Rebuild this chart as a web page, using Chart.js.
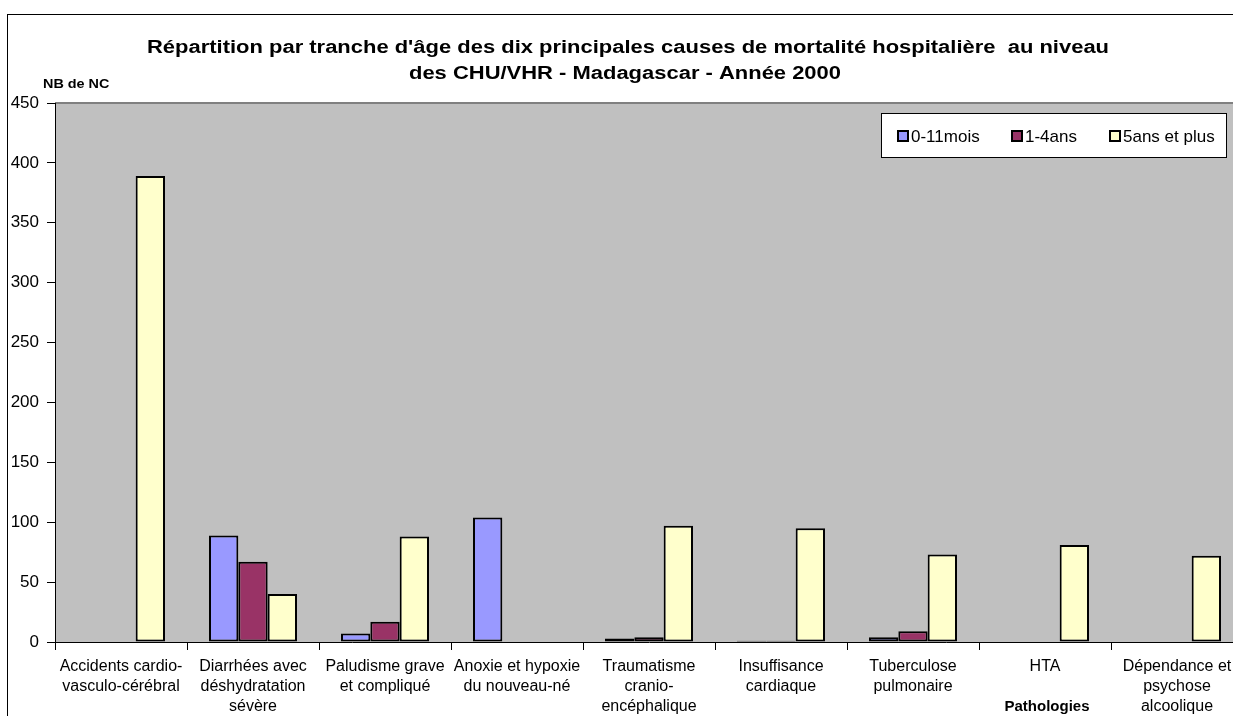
<!DOCTYPE html>
<html>
<head>
<meta charset="utf-8">
<script src="https://cdn.jsdelivr.net/npm/chart.js@4/dist/chart.umd.min.js"></script>
<style>
  html, body { margin: 0; padding: 0; background: #fff; overflow: hidden; }
  #wrap { width: 1250px; height: 716px; }
</style>
</head>
<body>
<div id="wrap"><canvas id="chart"></canvas></div>
<script>
const pathologies = [
    ['Accidents cardio-', 'vasculo-cérébral'],
    ['Diarrhées avec', 'déshydratation', 'sévère'],
    ['Paludisme grave', 'et compliqué'],
    ['Anoxie et hypoxie', 'du nouveau-né'],
    ['Traumatisme', 'cranio-', 'encéphalique'],
    ['Insuffisance', 'cardiaque'],
    ['Tuberculose', 'pulmonaire'],
    ['HTA'],
    ['Dépendance et', 'psychose', 'alcoolique']
];
const seriesNames = ['0-11mois', '1-4ans', '5ans et plus'];
const mois0a11 = [0, 89, 7, 104, 3, 1, 4, 0, 0];
const ans1a4 = [0, 67, 17, 0, 4, 1, 9, 0, 0];
const ans5plus = [389, 40, 88, 0, 97, 95, 73, 81, 72];
const yTicks = [0, 50, 100, 150, 200, 250, 300, 350, 400, 450];

const seriesColors = ['#9999FF', '#993366', '#FFFFCC'];
const titleLines = [
    "Répartition par tranche d'âge des dix principales causes de mortalité hospitalière  au niveau",
    "des CHU/VHR - Madagascar - Année 2000"
];
const FONT = '"Liberation Sans", Arial, sans-serif';

// texte un peu étiré en largeur, comme dans le graphique Excel
function wideText(ctx, txt, x, y, sx) {
    ctx.save();
    ctx.translate(x, y);
    ctx.scale(sx, 1);
    ctx.fillText(txt, 0, 0);
    ctx.restore();
}

// fond gris, cadre, titres et légende dans la zone de tracé
const excelLook = {
    id: 'excelLook',
    beforeDraw(chart) {
        const ctx = chart.ctx;
        const a = chart.chartArea;
        ctx.save();
        ctx.fillStyle = '#C0C0C0';
        ctx.fillRect(a.left, a.top, a.right - a.left, a.bottom - a.top);
        ctx.strokeStyle = '#808080';
        ctx.lineWidth = 2;
        ctx.beginPath();
        ctx.moveTo(a.left, a.top);
        ctx.lineTo(a.right, a.top);
        ctx.stroke();
        ctx.restore();
    },
    afterDraw(chart) {
        const ctx = chart.ctx;
        ctx.save();
        ctx.strokeStyle = '#000';
        ctx.lineWidth = 1;
        ctx.strokeRect(7.5, 14.5, 1400, 900);

        ctx.fillStyle = '#000';
        ctx.textAlign = 'center';
        ctx.textBaseline = 'middle';
        ctx.font = 'bold 18px ' + FONT;
        wideText(ctx, titleLines[0], 628, 48, 1.22);
        wideText(ctx, titleLines[1], 625, 74, 1.22);

        ctx.font = 'bold 12px ' + FONT;
        ctx.textAlign = 'left';
        wideText(ctx, 'NB de NC', 43, 85, 1.2);
        ctx.font = 'bold 15px ' + FONT;
        ctx.textAlign = 'center';
        ctx.fillText('Pathologies', 1047, 707);

        // légende
        ctx.fillStyle = '#fff';
        ctx.fillRect(881, 113, 346, 45);
        ctx.strokeStyle = '#000';
        ctx.strokeRect(881.5, 113.5, 345, 44);
        const xs = [898, 1012, 1110];
        ctx.font = '17px ' + FONT;
        ctx.textAlign = 'left';
        chart.data.datasets.forEach((ds, i) => {
            ctx.fillStyle = ds.backgroundColor;
            ctx.fillRect(xs[i], 131, 10, 10);
            ctx.strokeStyle = '#000';
            ctx.lineWidth = 2;
            ctx.strokeRect(xs[i], 131, 10, 10);
            ctx.fillStyle = '#000';
            ctx.fillText(ds.label, xs[i] + 13, 137);
        });
        ctx.restore();
    }
};

const series = [mois0a11, ans1a4, ans5plus];
new Chart(document.getElementById('chart'), {
    type: 'bar',
    data: {
        labels: pathologies,
        datasets: series.map((vals, i) => ({
            label: seriesNames[i],
            data: vals,
            backgroundColor: seriesColors[i],
            borderColor: '#000',
            borderWidth: 2,
            borderSkipped: false,
            categoryPercentage: 3 / 4.5,
            barPercentage: 1
        }))
    },
    options: {
        responsive: true,
        maintainAspectRatio: false,
        animation: false,
        layout: { padding: { left: 0, top: 103, right: 7, bottom: 0 } },
        plugins: {
            legend: { display: false },
            title: { display: false },
            tooltip: { enabled: false }
        },
        scales: {
            x: {
                afterFit(s) { s.height = 74; },
                grid: { drawOnChartArea: false, offset: true, tickLength: 8, color: '#000', lineWidth: 1 },
                border: { color: '#000', width: 1 },
                ticks: {
                    color: '#000', maxRotation: 0, autoSkip: false, padding: 7,
                    font: { family: FONT, size: 16, lineHeight: 1.25 }
                }
            },
            y: {
                min: 0, max: 450,
                afterFit(s) { s.width = 55; },
                afterBuildTicks(s) { s.ticks = yTicks.map(v => ({ value: v })); },
                grid: { drawOnChartArea: false, tickLength: 8, color: '#000', lineWidth: 1 },
                border: { color: '#000', width: 1 },
                ticks: {
                    color: '#000', padding: 8,
                    font: { family: FONT, size: 17 }
                }
            }
        }
    },
    plugins: [excelLook]
});
</script>
</body>
</html>
